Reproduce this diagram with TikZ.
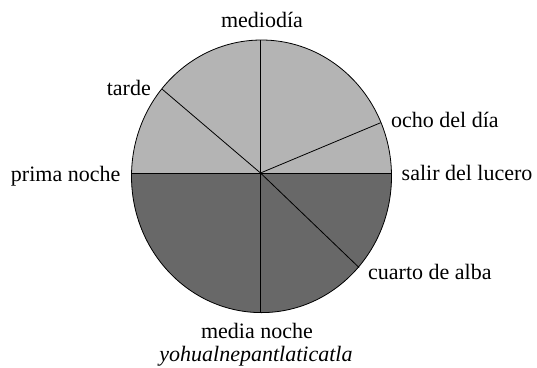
\documentclass[tikz,border=0pt]{standalone}
\usepackage{fontspec}
\setmainfont{Liberation Serif}
\definecolor{dia}{RGB}{180,180,180}
\definecolor{noche}{RGB}{104,104,104}

\begin{document}
\begin{tikzpicture}[x=1pt,y=-1pt,
	lbl/.style={font=\fontsize{22}{26}\selectfont, inner sep=0pt}]
	\useasboundingbox (0,0) rectangle (537,367);
	\coordinate (c) at (260.5,173);
	\fill[dia] (261.5,176.3) ellipse (130 and 136.3);
	\begin{scope}
		\clip (261.5,176.3) ellipse (130 and 136.3);
		\fill[noche] (120,173) rectangle (400,320);
	\end{scope}
	\draw[line width=.8pt] (261.5,176.3) ellipse (130 and 136.3);
	
	% rim points of the spokes
	\coordinate (n) at (260.5,40);
	\coordinate (s) at (260.5,312.6);
	\coordinate (w) at (131.5,173);
	\coordinate (e) at (391.5,173);
	\coordinate (ne) at (380.7,122.7);
	\coordinate (nw) at (162.3,89.3);
	\coordinate (se) at (359,267.5);
	\foreach \p in {n, s, w, e, ne, nw, se}{
		\draw[line width=.8pt] (c) -- (\p);
	}
	
	\node[lbl, anchor=base] (mediodia) at (262,27) {mediodía};
	\node[lbl, anchor=base east] (tarde) at (151,95) {tarde};
	\node[lbl, anchor=base west] (ocho) at (391,127) {ocho del día};
	\node[lbl, anchor=base east] (prima) at (120.5,181.5) {prima noche};
	\node[lbl, anchor=base west] (salir) at (401.5,180) {salir del lucero};
	\node[lbl, anchor=base west] (cuarto) at (368,279) {cuarto de alba};
	\node[lbl, anchor=base] (media) at (257,338) {media noche};
	\node[lbl, anchor=base, font=\fontsize{22}{26}\selectfont\itshape] (yohual) at (256,361.5) {yohualnepantlaticatla};
	
\end{tikzpicture}
\end{document}
